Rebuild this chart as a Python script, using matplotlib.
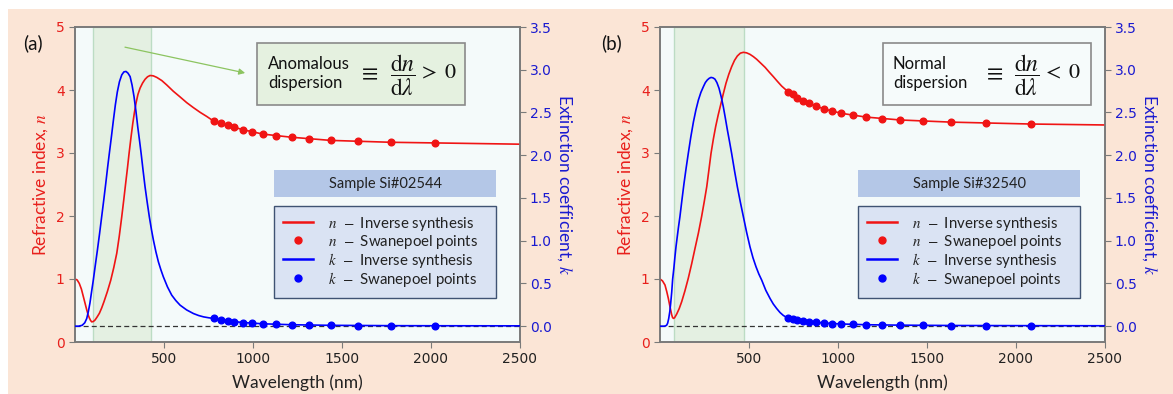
import matplotlib
matplotlib.use("Agg")
import matplotlib.pyplot as plt
from matplotlib.patches import Rectangle
from matplotlib.lines import Line2D

plt.rcParams['mathtext.fontset'] = 'stix'
TXT = ['Lato', 'DejaVu Sans']

# ---------------- data : panel (a) ----------------
lam_n_a = [0, 12, 24, 36, 47, 57, 66, 74, 81, 88, 94, 103, 113, 125, 137, 150, 163, 182, 201,
           218, 235, 249, 263, 274, 285, 295, 304, 315, 325, 334, 343, 354, 366, 380, 394, 408,
           422, 440, 460, 488, 516, 553, 591, 628, 666, 704, 741, 783, 858, 944, 1057, 1218,
           1438, 1778, 2023, 2500]
n_a = [1.00, 0.985, 0.93, 0.84, 0.72, 0.61, 0.51, 0.43, 0.38, 0.34, 0.32, 0.325, 0.35, 0.40,
       0.455, 0.54, 0.64, 0.80, 0.98, 1.18, 1.41, 1.68, 1.99, 2.25, 2.52, 2.76, 2.99, 3.25,
       3.47, 3.64, 3.79, 3.93, 4.03, 4.11, 4.17, 4.21, 4.23, 4.225, 4.20, 4.15, 4.08, 3.98,
       3.89, 3.80, 3.72, 3.645, 3.58, 3.50, 3.44, 3.37, 3.30, 3.25, 3.20, 3.17, 3.16, 3.14]
lam_k_a = [0, 20, 40, 55, 66, 75, 84, 93, 103, 114, 126, 138, 150, 162, 173, 183, 193, 205,
           216, 227, 238, 250, 263, 275, 287, 298, 310, 321, 332, 343, 353, 363, 372, 383, 394,
           406, 418, 430, 441, 455, 469, 483, 497, 520, 544, 567, 591, 628, 666, 695, 723, 753,
           783, 858, 944, 1057, 1218, 1438, 1778, 2023, 2500]
k_a = [0.0, 0.0, 0.01, 0.04, 0.09, 0.17, 0.27, 0.40, 0.54, 0.71, 0.89, 1.08, 1.28, 1.48, 1.67,
       1.85, 2.02, 2.22, 2.41, 2.59, 2.74, 2.86, 2.94, 2.975, 2.98, 2.96, 2.92, 2.82, 2.685,
       2.51, 2.33, 2.17, 2.02, 1.82, 1.63, 1.45, 1.28, 1.13, 1.007, 0.87, 0.753, 0.66, 0.577,
       0.46, 0.363, 0.30, 0.246, 0.19, 0.148, 0.125, 0.109, 0.098, 0.09, 0.063, 0.043, 0.028,
       0.017, 0.010, 0.006, 0.005, 0.004]
swp_lam_a = [783, 820, 858, 897, 944, 995, 1057, 1130, 1218, 1318, 1438, 1592, 1778, 2023]
swp_n_a = [3.503, 3.48, 3.444, 3.408, 3.37, 3.333, 3.30, 3.275, 3.254, 3.227, 3.20, 3.186,
           3.175, 3.159]
swp_k_a = [0.09, 0.075, 0.063, 0.052, 0.043, 0.035, 0.028, 0.022, 0.017, 0.013, 0.010, 0.008,
           0.006, 0.005]

# ---------------- data : panel (b) ----------------
lam_n_b = [0, 14, 28, 38, 47, 54, 60, 66, 71, 76, 82, 94, 108, 122, 140, 159, 178, 197, 216,
           234, 249, 263, 275, 287, 300, 313, 327, 341, 356, 371, 387, 403, 419, 435, 452, 469,
           487, 506, 525, 544, 567, 591, 614, 638, 661, 684, 703, 722, 772, 838, 921, 1020,
           1159, 1352, 1637, 2085, 2500]
n_b = [1.00, 0.97, 0.905, 0.80, 0.69, 0.59, 0.508, 0.43, 0.386, 0.375, 0.385, 0.444, 0.53,
       0.64, 0.81, 1.011, 1.24, 1.487, 1.73, 1.99, 2.23, 2.466, 2.73, 2.995, 3.22, 3.418, 3.60,
       3.762, 3.94, 4.106, 4.25, 4.37, 4.47, 4.54, 4.585, 4.598, 4.59, 4.566, 4.53, 4.487,
       4.425, 4.36, 4.285, 4.21, 4.135, 4.063, 4.015, 3.973, 3.878, 3.788, 3.70, 3.63, 3.57,
       3.524, 3.49, 3.46, 3.445]
lam_k_b = [0, 25, 37, 43, 49, 55, 60, 66, 71, 78, 84, 90, 97, 104, 112, 123, 135, 147, 159,
           173, 188, 202, 216, 230, 244, 255, 266, 277, 287, 298, 309, 320, 332, 344, 356, 367,
           379, 391, 403, 419, 435, 452, 469, 487, 506, 523, 540, 556, 572, 595, 619, 637, 656,
           675, 694, 708, 722, 772, 838, 921, 1020, 1159, 1352, 1637, 2085, 2500]
k_b = [0.0, 0.0, 0.01, 0.035, 0.09, 0.17, 0.265, 0.40, 0.547, 0.68, 0.811, 0.93, 1.046, 1.16,
       1.28, 1.47, 1.67, 1.85, 2.02, 2.21, 2.39, 2.53, 2.646, 2.735, 2.802, 2.85, 2.88, 2.90,
       2.91, 2.905, 2.89, 2.85, 2.783, 2.685, 2.568, 2.44, 2.295, 2.16, 2.02, 1.82, 1.631,
       1.45, 1.28, 1.10, 0.929, 0.80, 0.695, 0.61, 0.539, 0.42, 0.324, 0.26, 0.207, 0.16,
       0.125, 0.108, 0.097, 0.07, 0.052, 0.037, 0.026, 0.017, 0.012, 0.008, 0.006, 0.005]
swp_lam_b = [722, 746, 772, 806, 838, 876, 921, 968, 1020, 1084, 1159, 1247, 1352, 1481, 1637,
             1832, 2085]
swp_n_b = [3.973, 3.93, 3.878, 3.83, 3.788, 3.74, 3.70, 3.67, 3.63, 3.598, 3.57, 3.544, 3.524,
           3.508, 3.49, 3.476, 3.46]
swp_k_b = [0.097, 0.084, 0.072, 0.061, 0.052, 0.044, 0.037, 0.031, 0.026, 0.021, 0.017, 0.014,
           0.012, 0.010, 0.008, 0.007, 0.006]

panel_labels = ['(a)', '(b)']
samples = ['Sample Si#02544', 'Sample Si#32540']
disp_names = ['Anomalous\ndispersion', 'Normal\ndispersion']
disp_signs = ['>', '<']
spans = [(100, 425), (80, 470)]
xticks = [500, 1000, 1500, 2000, 2500]
nticks = [0, 1, 2, 3, 4, 5]
kticks = [0.0, 0.5, 1.0, 1.5, 2.0, 2.5, 3.0, 3.5]

RED = '#f01414'
BLUE = '#0000ff'
RED_T = '#e8201c'
BLUE_T = '#1a1ad0'
SPINE = '#7a7a7a'

W, H = 1173, 394
fig = plt.figure(figsize=(W / 100, H / 100), dpi=100)
fig.patch.set_facecolor('white')
fig.add_artist(Rectangle((8 / W, 0), 1, 1 - 9 / H, transform=fig.transFigure,
                         facecolor='#fbe5d6', edgecolor='none', zorder=-10))

panels = [
    dict(left=75, lam_n=lam_n_a, n=n_a, lam_k=lam_k_a, k=k_a, sl=swp_lam_a, sn=swp_n_a,
         sk=swp_k_a, box=(0.41, 0.878), txt_x=0.434, eq_x=0.66, fr_x=0.7365, gt_x=0.772,
         sx0=(274 - 75) / 444, lab_x=33),
    dict(left=660, lam_n=lam_n_b, n=n_b, lam_k=lam_k_b, k=k_b, sl=swp_lam_b, sn=swp_n_b,
         sk=swp_k_b, box=(0.502, 0.97), txt_x=0.524, eq_x=0.749, fr_x=0.825, gt_x=0.86,
         sx0=(858 - 660) / 444.5, lab_x=612),
]

for i, p in enumerate(panels):
    l = p['left'] / W
    b = (H - 342) / H
    w = 444.5 / W
    h = 315 / H
    ax = fig.add_axes([l, b, w, h])
    ax.set_facecolor('#f4fafa')
    ax2 = ax.twinx()
    ax2.patch.set_visible(False)

    ax.set_xlim(0, 2500)
    ax.set_ylim(0, 5)
    ax2.set_ylim(-0.185, 3.5)

    s0, s1 = spans[i]
    ax.axvspan(s0, s1, facecolor='#e4f0e2', edgecolor='#bcdcc4', lw=1.0, zorder=0)

    ax2.axhline(0, color='#333333', lw=0.9, ls=(0, (4, 2.5)), zorder=1)

    ax.plot(p['lam_n'], p['n'], color=RED, lw=1.2, zorder=3)
    ax.plot(p['sl'], p['sn'], 'o', color=RED, ms=4.8, zorder=4)
    ax2.plot(p['lam_k'], p['k'], color=BLUE, lw=1.2, zorder=3)
    ax2.plot(p['sl'], p['sk'], 'o', color=BLUE, ms=4.8, zorder=4)

    ax.set_xticks(xticks)
    ax.set_yticks(nticks)
    ax2.set_yticks(kticks)
    ax2.set_yticklabels([f'{t:.1f}' for t in kticks])
    ax.tick_params(axis='x', colors=SPINE, labelcolor='#222222', labelsize=10, length=4)
    ax.tick_params(axis='y', colors=SPINE, labelcolor=RED_T, labelsize=10, length=4)
    ax2.tick_params(axis='y', colors=SPINE, labelcolor=BLUE_T, labelsize=10, length=4)
    for a in (ax, ax2):
        for sp in a.spines.values():
            sp.set_color(SPINE)
            sp.set_linewidth(1.2)

    ax.set_xlabel('Wavelength (nm)', family=TXT, fontsize=12.5, color='#222222', labelpad=6)
    ax.set_ylabel('Refractive index, $n$', family=TXT, fontsize=12.5, color=RED_T, labelpad=4)
    ax2.set_ylabel('Extinction coefficient, $k$', family=TXT, fontsize=12.5, color=BLUE_T,
                   rotation=270, labelpad=16)

    fig.text(p['lab_x'] / W, 1 - 43 / H, panel_labels[i], family=TXT, fontsize=13.5,
             color='#111111', ha='center', va='center')

    # dispersion box
    bx0, bx1 = p['box']
    ax2.add_patch(Rectangle((bx0, 0.752), bx1 - bx0, 0.197, transform=ax2.transAxes,
                            facecolor='#e5f1e0' if i == 0 else '#f6fbfb',
                            edgecolor='#8a8a8a', lw=1.2, zorder=6))
    ax2.text(p['txt_x'], 0.852, disp_names[i], transform=ax2.transAxes, family=TXT,
             fontsize=12, color='#111111', ha='left', va='center', linespacing=1.2, zorder=7)
    ax2.text(p['eq_x'], 0.852, r'$\equiv$', transform=ax2.transAxes, fontsize=17,
             color='#111111', ha='center', va='center', zorder=7)
    ax2.text(p['fr_x'], 0.846, r'$\dfrac{\mathrm{d}n}{\mathrm{d}\lambda}$',
             transform=ax2.transAxes, fontsize=17, color='#111111', ha='center', va='center',
             zorder=7)
    ax2.text(p['gt_x'], 0.856, '$' + disp_signs[i] + r'\;0$',
             transform=ax2.transAxes, fontsize=16, color='#111111', ha='left', va='center',
             zorder=7)

    if i == 0:
        ax.annotate('', xy=(957, 4.27), xytext=(281, 4.68),
                    arrowprops=dict(arrowstyle='-|>', color='#8cc460', lw=0.9,
                                    mutation_scale=9, shrinkA=0, shrinkB=0), zorder=5)

    # sample title box
    sx0 = p['sx0']
    sw = 0.5
    ax2.add_patch(Rectangle((sx0, 0.46), sw, 0.086, transform=ax2.transAxes,
                            facecolor='#b4c7e7', edgecolor='none', zorder=6))
    ax2.text(sx0 + sw / 2, 0.503, samples[i], transform=ax2.transAxes, family=TXT,
             fontsize=10.5, color='#222222', ha='center', va='center', zorder=7)

    handles = [
        Line2D([], [], color=RED, lw=1.8),
        Line2D([], [], color=RED, marker='o', ls='none', ms=5),
        Line2D([], [], color=BLUE, lw=1.8),
        Line2D([], [], color=BLUE, marker='o', ls='none', ms=5),
    ]
    labels = [r'$n\;\;-$ Inverse synthesis', r'$n\;\;-$ Swanepoel points',
              r'$k\;\;-$ Inverse synthesis', r'$k\;\;-$ Swanepoel points']
    leg = ax2.legend(handles, labels, loc='upper left',
                     bbox_to_anchor=(sx0, 0.433, sw, 0.0), mode='expand',
                     prop={'family': TXT, 'size': 10.8}, frameon=True, fancybox=False,
                     facecolor='#dae3f3', edgecolor='#3f5373', framealpha=1,
                     borderaxespad=0, borderpad=0.6, labelspacing=0.0, handlelength=2.0,
                     handletextpad=1.0, numpoints=1)
    leg.get_frame().set_linewidth(1.0)
    leg.set_zorder(8)
    for t in leg.get_texts():
        t.set_color('#222222')

fig.savefig('out.png', dpi=100, facecolor=fig.get_facecolor())
